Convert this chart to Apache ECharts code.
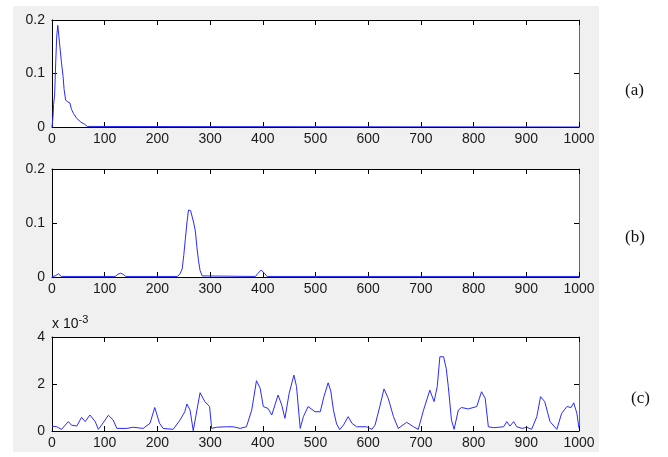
<!DOCTYPE html>
<html><head><meta charset="utf-8">
<script src="https://cdn.jsdelivr.net/npm/echarts@6/dist/echarts.min.js"></script>
<style>html,body{margin:0;padding:0;background:#fff}#c{width:668px;height:457px}</style>
</head><body><div id="c"></div>
<script>
const xTicks = [0,100,200,300,400,500,600,700,800,900,1000];
const panelLabels = ['(a)','(b)','(c)'];
const seriesA = [[0,0],[2,0.02],[3,0.042],[5,0.06],[7,0.12],[9,0.17],[11,0.19],[13,0.187],[15,0.15],[18,0.12],[21,0.095],[23,0.07],[26,0.05],[30,0.047],[34,0.045],[37,0.033],[41,0.025],[47,0.016],[55,0.009],[62,0.005],[67,0.001],[70,0],[1000,0]];
const seriesB = [[0,0.001],[6,0.002],[12,0.006],[18,0.001],[120,0.001],[125,0.005],[130,0.007],[135,0.005],[140,0.001],[238,0.001],[243,0.006],[247,0.015],[250,0.04],[253,0.07],[256,0.1],[259,0.124],[263,0.123],[266,0.12],[269,0.1],[272,0.085],[275,0.055],[278,0.03],[281,0.012],[285,0.002],[288,0.001],[386,0.001],[390,0.006],[397,0.013],[400,0.012],[404,0.006],[408,0.001],[1000,0.001]];
const seriesC = [[0,0.21],[9,0.18],[18,0.07],[31,0.4],[37,0.25],[47,0.21],[56,0.58],[63,0.4],[72,0.68],[82,0.4],[88,0.07],[94,0.25],[107,0.67],[116,0.47],[123,0.11],[142,0.11],[154,0.16],[173,0.11],[186,0.33],[195,1.0],[204,0.33],[211,0.11],[230,0.07],[243,0.47],[252,0.82],[256,1.15],[262,0.89],[268,0.01],[275,0.89],[281,1.63],[290,1.25],[299,1.04],[303,0.11],[312,0.16],[331,0.18],[344,0.18],[357,0.11],[369,0.18],[379,0.89],[388,2.14],[395,1.82],[401,1.04],[410,0.96],[417,0.68],[429,1.53],[436,1.1],[442,0.54],[450,1.6],[459,2.38],[464,1.89],[471,0.11],[477,0.61],[486,1.04],[499,0.82],[509,0.82],[516,1.46],[524,2.05],[529,1.7],[534,0.9],[540,0.3],[546,0.06],[553,0.25],[562,0.61],[569,0.33],[578,0.18],[597,0.18],[607,0.07],[613,0.25],[622,1.04],[630,1.79],[638,1.39],[648,0.61],[657,0.11],[673,0.37],[686,0.18],[695,0.07],[705,0.89],[717,1.74],[725,1.25],[731,1.89],[736,3.16],[743,3.16],[748,2.67],[752,1.89],[758,0.47],[763,0.07],[771,0.89],[777,1.0],[790,0.94],[806,1.04],[815,1.67],[822,1.39],[828,0.18],[838,0.14],[857,0.18],[863,0.4],[869,0.21],[876,0.4],[882,0.18],[892,0.11],[901,0.16],[910,0.07],[920,0.61],[927,1.46],[935,1.25],[945,0.4],[958,0.07],[967,0.75],[977,1.04],[985,1.0],[990,1.2],[996,0.75],[1000,0.11]];
const yRanges = [[0,0.2,0.1],[0,0.2,0.1],[0,4,2]];
const allSeries = [seriesA, seriesB, seriesC];

const grids = [
  {left:52, right:89, top:20, height:107},
  {left:52, right:89, top:169, height:108},
  {left:52, right:89, top:337, height:94}
];
const tickFont = {fontFamily:'Liberation Sans, Arial, sans-serif', fontSize:14, color:'#1a1a1a'};
const xAxes = [], yAxes = [], series = [];
grids.forEach((g,i)=>{
  xAxes.push({type:'value', gridIndex:i, min:0, max:1000, interval:100, position:'bottom',
    axisLine:{show:true,onZero:false,lineStyle:{color:'#000',width:1}},
    axisTick:{show:true,inside:true,length:5,lineStyle:{color:'#000'}},
    axisLabel:Object.assign({margin:5, formatter:v=>xTicks.includes(v)?String(v):''},tickFont),
    splitLine:{show:false}});
  xAxes.push({type:'value', gridIndex:i, min:0, max:1000, interval:100, position:'top',
    axisLine:{show:true,onZero:false,lineStyle:{color:'#000',width:1}},
    axisTick:{show:true,inside:true,length:5,lineStyle:{color:'#000'}},
    axisLabel:{show:false}, splitLine:{show:false}});
  const r = yRanges[i];
  yAxes.push({type:'value', gridIndex:i, min:r[0], max:r[1], interval:r[2], position:'left',
    axisLine:{show:true,onZero:false,lineStyle:{color:'#000',width:1}},
    axisTick:{show:true,inside:true,length:5,lineStyle:{color:'#000'}},
    axisLabel:Object.assign({margin:7},tickFont), splitLine:{show:false}});
  yAxes.push({type:'value', gridIndex:i, min:r[0], max:r[1], interval:r[2], position:'right',
    axisLine:{show:true,onZero:false,lineStyle:{color:'#666',width:1}},
    axisTick:{show:true,inside:true,length:5,lineStyle:{color:'#000'}},
    axisLabel:{show:false}, splitLine:{show:false}});
  series.push({type:'line', xAxisIndex:2*i, yAxisIndex:2*i, data:allSeries[i], showSymbol:false, symbol:'none',
    lineStyle:{color:'#2a2aff', width:1}, animation:false, z:5});
});

const chart = echarts.init(document.getElementById('c'), null, {renderer:'canvas'});
chart.setOption({
  animation:false,
  backgroundColor:'#ffffff',
  grid: grids.map(g=>Object.assign({show:true, backgroundColor:'#ffffff', borderColor:'#000', borderWidth:0},g)),
  xAxis: xAxes, yAxis: yAxes, series: series,
  graphic: [
    {type:'rect', z:-100, shape:{x:13,y:6,width:586,height:446}, style:{fill:'#f0f0f0'}, silent:true},
    {type:'text', z:10, left:625, top:82, style:{text:panelLabels[0], font:'17px "Liberation Serif", serif', fill:'#111'}},
    {type:'text', z:10, left:625, top:229, style:{text:panelLabels[1], font:'17px "Liberation Serif", serif', fill:'#111'}},
    {type:'text', z:10, left:631, top:390, style:{text:panelLabels[2], font:'17px "Liberation Serif", serif', fill:'#111'}},
    {type:'text', z:10, left:52, top:314, style:{text:'x 10{s|-3}', rich:{s:{fontSize:11, padding:[0,0,10,0], fontFamily:'Liberation Sans, Arial, sans-serif'}}, fontSize:14, fontFamily:'Liberation Sans, Arial, sans-serif', fill:'#111'}}
  ]
});
</script></body></html>
